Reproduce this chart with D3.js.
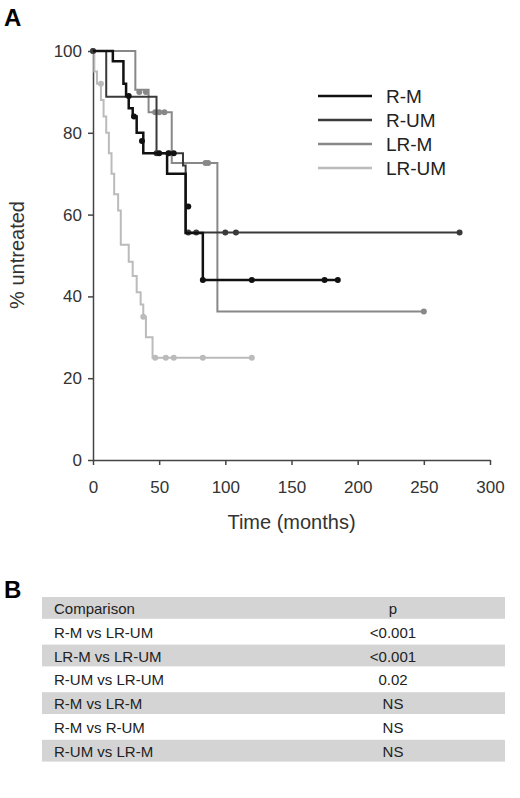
<!DOCTYPE html><html><head><script src="https://cdn.jsdelivr.net/npm/d3@7"></script>
<style>body{margin:0;background:#fff;font-family:Arial,"Liberation Sans",sans-serif}</style></head><body><svg id="c" width="520" height="798"></svg><script>
const xTicks=[0,50,100,150,200,250,300];
const yTicks=[0,20,40,60,80,100];
const seriesNames=["R-M","R-UM","LR-M","LR-UM"];
const seriesColors=["#111","#3a3a3a","#888","#bbb"];
const seriesWidths=[2.5,2,2,2];
const rmSteps=[[0,100],[15,97.5],[23,92],[25,89],[27,86],[30,84],[33,80],[38,75],[56,70],[70,55.5],[83,44]];
const rmCens=[[27,89],[31,84],[37,78],[50,75],[57,75],[61,75],[72,62],[83,44],[120,44],[175,44],[185,44]];
const rumSteps=[[0,100],[10,88.8],[48,75],[68,72],[70,55.6]];
const rumCens=[[0,100],[48,75],[72,55.6],[78,55.6],[100,55.6],[108,55.6],[277,55.6]];
const lrmSteps=[[0,100],[32,90.5],[42,85],[59.5,72.6],[94,36.3]];
const lrmCens=[[0,100],[35,90],[40,90],[47,85],[50,85],[54,85],[58,75],[85,72.6],[87,72.6],[250,36.3]];
const lrumSteps=[[0,100],[1,95],[3,92],[6,88],[8,84],[10,80],[12,75],[14,70],[16,65],[19,61],[21,52.6],[27,48.5],[30,45],[33,41],[36,38],[38,35],[40,30],[45,25]];
const lrumCens=[[6,92],[38,35],[47,25],[55,25],[61,25],[83,25],[120,25]];
const steps=[rmSteps,rumSteps,lrmSteps,lrumSteps];
const cens=[rmCens,rumCens,lrmCens,lrumCens];
const endT=[185,277,250,120];
const tblHead=["Comparison","p"];
const tblComp=["R-M vs LR-UM","LR-M vs LR-UM","R-UM vs LR-UM","R-M vs LR-M","R-M vs R-UM","R-UM vs LR-M"];
const tblP=["<0.001","<0.001","0.02","NS","NS","NS"];

const svg=d3.select("#c");
const x=d3.scaleLinear().domain([0,300]).range([93,490]);
const y=d3.scaleLinear().domain([0,100]).range([460,51]);
svg.append("text").attr("x",4).attr("y",26).attr("font-size",24).attr("font-weight","bold").text("A");
svg.append("text").attr("x",4).attr("y",598).attr("font-size",24).attr("font-weight","bold").text("B");
const gx=svg.append("g").attr("transform","translate(0,460)").call(d3.axisBottom(x).tickValues(xTicks).tickSize(5).tickPadding(16).tickSizeOuter(0));
const gy=svg.append("g").attr("transform","translate(93,0)").call(d3.axisLeft(y).tickValues(yTicks).tickSize(5).tickPadding(6).tickSizeOuter(0));
[gx,gy].forEach(g=>{g.selectAll("path,line").attr("stroke","#444").attr("stroke-width",1.5);g.selectAll("text").attr("font-size",17).attr("fill","#333").attr("font-family","Arial,Liberation Sans,sans-serif");});
svg.append("text").attr("x",x(150)).attr("y",529).attr("text-anchor","middle").attr("font-size",20).attr("fill","#333").text("Time (months)");
svg.append("text").attr("transform","translate(24,255) rotate(-90)").attr("text-anchor","middle").attr("font-size",20).attr("fill","#333").text("% untreated");
const line=d3.line().x(d=>x(d[0])).y(d=>y(d[1])).curve(d3.curveStepAfter);
[3,2,1,0].forEach(i=>{
  const pts=steps[i].concat([[endT[i],steps[i][steps[i].length-1][1]]]);
  svg.append("path").attr("d",line(pts)).attr("fill","none").attr("stroke",seriesColors[i]).attr("stroke-width",seriesWidths[i]);
  svg.selectAll(null).data(cens[i]).enter().append("circle").attr("cx",d=>x(d[0])).attr("cy",d=>y(d[1])).attr("r",3).attr("fill",seriesColors[i]);
});
seriesNames.forEach((n,i)=>{
  const yy=96+i*24;
  svg.append("line").attr("x1",318).attr("x2",372).attr("y1",yy).attr("y2",yy).attr("stroke",seriesColors[i]).attr("stroke-width",2.5);
  svg.append("text").attr("x",386).attr("y",yy+7).attr("font-size",19).attr("fill","#222").text(n);
});
const rowH=23.8, t0=597;
const rows=[tblHead].concat(tblComp.map((c,i)=>[c,tblP[i]]));
rows.forEach((r,i)=>{
  const yy=t0+i*rowH;
  if(i%2===0) svg.append("rect").attr("x",42).attr("y",yy).attr("width",463).attr("height",rowH-2).attr("fill","#d4d4d4");
  svg.append("text").attr("x",54).attr("y",yy+17).attr("font-size",15).attr("fill","#222").text(r[0]);
  svg.append("text").attr("x",393).attr("y",yy+17).attr("text-anchor","middle").attr("font-size",15).attr("fill","#222").text(r[1]);
});
</script></body></html>
